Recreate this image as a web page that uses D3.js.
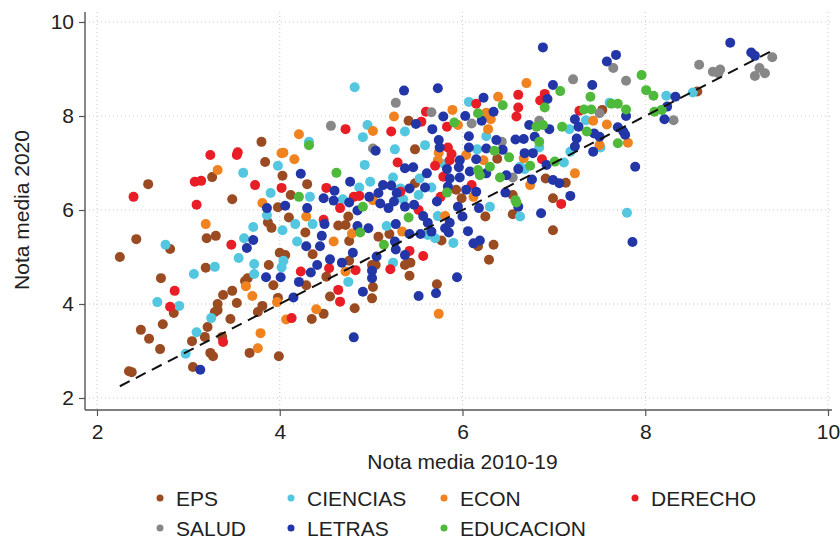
<!DOCTYPE html>
<html>
<head>
<meta charset="utf-8">
<script src="https://cdn.jsdelivr.net/npm/d3@7"></script>
<style>
  html, body { margin: 0; padding: 0; background: #fff; }
  svg { display: block; font-family: "Liberation Sans", Arial, sans-serif; }
</style>
</head>
<body>
<svg id="chart" width="840" height="541"></svg>
<script>
// Faculty groups, drawn in this order (later groups sit on top)
const categories = ["EPS", "CIENCIAS", "ECON", "DERECHO", "SALUD", "LETRAS", "EDUCACION"];
const categoryColors = ["#9a4b22", "#52c7df", "#f0821f", "#e91d25", "#878787", "#2236a8", "#4fb93b"];

// [nota media 2010-19, nota media 2020] per degree
const eps = [[3.80,7.45],[3.84,7.02],[3.26,6.70],[2.56,6.55],[3.48,6.23],[3.98,6.06],[3.87,5.74],[3.91,5.62],[3.20,5.40],[3.30,5.45],[2.43,5.38],[2.80,5.17],[2.25,5.00],[4.00,5.09],[3.88,4.83],[3.19,4.77],[2.70,4.55],[3.62,4.49],[3.65,4.55],[3.93,4.40],[3.48,4.28],[3.38,4.19],[3.53,4.02],[3.32,4.00],[3.32,3.87],[3.29,3.83],[3.98,4.13],[2.84,3.81],[3.81,3.96],[3.76,3.83],[3.46,3.68],[2.72,3.57],[3.21,3.51],[2.48,3.45],[3.18,3.30],[2.57,3.26],[3.37,3.30],[3.04,3.21],[2.69,3.04],[3.24,2.96],[3.27,2.89],[3.67,2.96],[3.99,2.89],[3.05,2.66],[2.35,2.57],[2.38,2.55],
  [4.03,6.73],[4.30,6.55],[4.12,6.32],[4.10,5.84],[4.75,5.86],[4.72,5.68],[4.64,5.67],[4.28,5.52],[5.20,5.49],[4.76,5.34],[5.08,5.43],
  [4.06,5.04],[4.36,5.06],[4.76,4.92],[5.01,4.83],[5.05,4.83],[4.29,4.40],[4.51,4.58],[5.02,4.36],[4.55,4.16],[5.01,4.12],[4.48,3.79],[4.35,3.68],[4.82,3.91],
  [5.41,7.90],[5.48,7.29],[6.38,7.09],[5.48,6.57],[5.93,6.43],[5.99,6.25],
  [5.37,4.83],[5.43,4.88],[5.77,5.35],[6.17,5.23],[6.34,5.26],[6.29,4.94],[5.42,4.60],[5.72,4.42],
  [7.53,8.13],[6.91,6.67],[7.13,6.58],[6.99,6.25],[6.55,6.32],[6.55,5.91],[6.99,5.57],[8.57,8.52],[6.25,5.86]];

const ciencias = [[3.98,6.94],[3.60,6.79],[3.90,6.36],[3.86,5.89],[3.71,5.64],[3.61,5.40],[2.75,5.26],[3.55,4.98],[3.72,4.85],[3.29,4.79],[3.06,4.64],[3.72,4.64],[2.66,4.04],[2.90,3.96],[3.25,3.70],[3.09,3.40],[2.97,2.94],
  [4.82,8.61],[4.96,7.81],[4.91,7.55],[4.32,7.45],[5.26,7.29],[4.93,6.96],[4.99,6.60],[4.87,6.48],[4.33,6.28],[4.69,6.23],[4.17,5.70],[4.36,5.70],[5.17,5.66],[4.03,5.57],[4.19,5.33],
  [4.04,4.92],[4.02,4.78],[4.75,4.47],
  [6.07,8.30],[5.37,7.67],[6.26,7.57],[5.59,7.38],[6.16,7.29],[5.80,6.98],[5.24,6.69],[5.53,6.67],[5.66,6.48],[5.32,6.46],[5.52,6.32],[6.30,6.07],[5.35,6.23],[5.73,5.87],[5.62,5.47],
  [5.70,5.40],[5.24,4.88],[5.90,5.30],
  [7.61,8.28],[7.17,7.72],[7.35,7.91],[7.51,7.33],[7.18,7.24],[6.84,7.33],[7.11,7.01],[6.63,6.92],[6.68,6.87],[6.63,5.86],[7.80,5.94],
  [8.52,8.50],[8.23,8.43]];

const econ = [[4.02,7.21],[3.32,6.85],[3.81,6.15],[3.19,5.70],[3.63,4.38],[3.70,4.17],[3.97,4.04],[3.79,3.38],[3.76,3.06],
  [5.02,7.68],[4.21,7.61],[4.04,7.22],[4.16,7.08],[5.02,6.21],[4.29,5.86],[4.79,5.50],[4.59,5.33],
  [4.72,4.69],[4.40,3.89],[4.07,3.67],
  [6.39,8.41],[5.89,8.13],[6.26,8.07],[5.25,7.99],[6.31,7.93],[5.95,7.81],[6.28,7.72],[5.74,7.22],[6.04,7.17],[6.23,7.06],[5.73,7.06],[6.12,6.28],[5.34,5.54],
  [5.74,3.79],
  [6.70,8.70],[7.43,7.90],[7.58,7.82],[7.81,7.43],[7.50,7.38],[6.67,7.10],[6.74,6.53],[7.23,6.78],[5.81,5.87]];

const derecho = [[3.24,7.17],[3.54,7.23],[3.53,7.17],[3.07,6.60],[3.14,6.62],[3.73,6.53],[4.02,6.47],[2.40,6.28],[3.09,6.11],[3.47,5.26],[2.85,4.28],[2.80,3.94],[3.38,3.19],
  [4.72,7.72],[5.22,7.67],[5.29,7.01],[4.51,6.47],[4.81,6.28],[4.87,6.30],[4.66,6.04],[4.48,5.79],
  [4.23,4.69],[4.54,4.76],[4.83,4.72],[5.21,4.74],[4.64,4.30],[4.66,4.05],[4.13,3.70],
  [6.61,8.45],[6.15,8.26],[6.61,8.18],[5.60,8.09],[5.55,7.88],[5.83,7.77],[6.59,7.99],[5.84,7.33],[5.88,7.19],[5.86,7.06],[5.70,6.94],[5.79,6.71],[5.32,6.39],[5.76,6.28],
  [5.42,5.13],[5.57,5.02],
  [6.90,8.47],[6.85,8.33],[7.28,8.11],[6.87,7.08],[7.08,6.13],[5.52,6.00],[6.10,6.53]];

const salud = [[5.27,8.28],[4.56,7.79],[5.02,7.31],[5.66,8.08],[6.10,7.84],[6.43,7.45],[6.55,6.69],[7.65,9.02],[7.21,8.78],[7.79,8.75],[7.50,8.06],[6.84,7.90],[9.39,9.25],[8.59,9.09],[8.74,8.94],[8.82,8.99],[8.80,8.91],[9.20,8.85],[9.25,9.02],[9.31,8.91],[8.31,7.91]];

const letras = [[3.86,6.04],[3.71,5.36],[3.64,5.19],[3.85,4.57],[4.01,4.57],[3.13,2.60],
  [5.05,7.26],[4.23,6.77],[4.77,6.60],[4.60,6.41],[5.13,6.53],[5.22,6.52],[4.48,6.25],[4.98,6.28],[5.08,6.36],[5.28,6.36],[4.06,6.09],[4.30,6.04],[4.59,6.20],[4.76,6.16],[4.85,5.99],[5.10,6.14],[5.19,6.04],[4.49,5.70],[4.85,5.66],[4.97,5.61],[4.46,5.45],[4.29,5.23],[4.44,5.23],[5.26,5.33],
  [5.27,5.16],[4.55,4.95],[4.80,5.09],[4.68,4.88],[4.41,4.83],[4.34,4.67],[5.01,4.71],[4.21,4.47],[5.01,4.55],[4.91,4.26],[4.15,4.14],[4.81,3.29],
  [5.73,8.59],[5.36,8.54],[6.23,8.39],[6.03,8.00],[6.34,8.09],[5.79,7.99],[5.49,7.83],[6.21,7.90],[5.67,7.72],[5.74,7.49],[6.07,7.57],[6.37,7.49],[6.58,7.50],[5.75,7.33],[6.07,7.33],[6.26,7.31],[6.44,7.28],[5.97,7.06],[6.15,7.08],[5.37,6.89],[5.46,6.91],[5.83,6.87],[5.96,6.91],[6.08,6.82],[6.26,6.78],[6.48,6.74],[6.61,6.87],[5.61,6.78],[5.86,6.67],[5.97,6.69],[5.59,6.48],[5.84,6.50],[5.42,6.46],[6.04,6.43],[6.15,6.39],[6.47,6.37],[6.61,6.07],[5.72,6.18],[5.95,6.07],[6.18,6.04],[5.25,6.18],[5.37,6.07],[5.47,6.11],[5.57,5.87],[5.62,5.73],[5.66,5.54],[5.81,5.61],[5.86,5.73],[5.27,5.70],[5.42,5.49],[6.00,5.86],
  [5.54,5.49],[5.85,5.52],[6.06,5.55],[5.37,5.04],[6.12,5.29],[6.19,5.35],[5.94,4.57],[5.71,4.23],[5.52,4.17],
  [6.88,9.46],[7.68,9.30],[7.58,9.16],[6.99,8.66],[7.42,8.66],[6.93,8.36],[8.24,8.20],[7.79,8.00],[8.21,7.93],[6.73,7.81],[6.95,7.72],[7.23,7.93],[7.27,7.77],[7.70,7.76],[7.76,7.67],[7.78,7.60],[7.44,7.63],[7.50,7.56],[6.79,7.56],[6.67,7.51],[7.25,7.52],[7.23,7.35],[7.43,7.24],[6.68,7.21],[6.77,7.21],[6.92,6.96],[6.76,6.65],[6.99,6.64],[7.06,6.57],[7.18,6.30],[6.86,5.93],[7.89,6.92],
  [8.93,9.56],[9.16,9.35],[9.20,9.28],[8.33,8.41],[7.86,5.32],[5.06,5.01]];

const educacion = [[4.32,7.38],[4.62,6.79],[4.21,6.28],[4.91,6.07],[4.88,5.52],[5.14,5.26],
  [6.44,8.23],[6.17,8.06],[5.91,7.86],[6.35,7.26],[6.51,7.12],[6.17,6.85],[6.30,6.92],[6.41,6.69],[6.19,6.74],[5.83,6.37],[6.58,6.21],[5.41,5.84],
  [7.96,8.87],[7.07,8.53],[7.40,8.41],[8.01,8.55],[8.09,8.43],[6.90,8.18],[7.33,8.14],[7.41,8.14],[7.63,8.26],[7.70,8.26],[7.79,8.14],[8.10,8.09],[8.18,8.13],[6.81,7.77],[6.88,7.81],[7.09,7.77],[7.36,7.67],[6.84,7.45],[7.70,7.42],[7.01,7.03],[6.74,6.94],[6.59,6.16]];

const seriesValues = [eps, ciencias, econ, derecho, salud, letras, educacion];

const xTicks = [2, 4, 6, 8, 10];
const yTicks = [2, 4, 6, 8, 10];
const equalityRange = [2.25, 9.4];   // extent of the 45-degree reference line
const xTitle = "Nota media 2010-19";
const yTitle = "Nota media 2020";

const svg = d3.select("#chart");
const x = d3.scaleLinear().domain([2, 10]).range([97, 828]);
const y = d3.scaleLinear().domain([2, 10]).range([398, 22]);
const axisX = 85, axisY = 410;

// dotted grid
const grid = svg.append("g").attr("stroke", "#c9c9c9").attr("stroke-width", 1).attr("stroke-dasharray", "1,3");
grid.selectAll("line.v").data(xTicks).join("line").attr("class", "v")
  .attr("x1", d => x(d)).attr("x2", d => x(d)).attr("y1", 12).attr("y2", axisY);
grid.selectAll("line.h").data(yTicks).join("line").attr("class", "h")
  .attr("x1", axisX).attr("x2", 832).attr("y1", d => y(d)).attr("y2", d => y(d));

// points
const pts = svg.append("g");
seriesValues.forEach((vals, i) => {
  pts.append("g").attr("fill", categoryColors[i])
    .selectAll("circle").data(vals).join("circle")
    .attr("cx", d => x(d[0])).attr("cy", d => y(d[1])).attr("r", 5);
});

// y = x reference line
svg.append("line")
  .attr("x1", x(equalityRange[0])).attr("y1", y(equalityRange[0]))
  .attr("x2", x(equalityRange[1])).attr("y2", y(equalityRange[1]))
  .attr("stroke", "#111").attr("stroke-width", 2).attr("stroke-dasharray", "11,7");

// axes
const axisColor = "#555";
const gx = svg.append("g").attr("transform", `translate(0,${axisY})`)
  .call(d3.axisBottom(x).tickValues(xTicks).tickSize(6).tickPadding(8).tickFormat(d3.format("d")));
const gy = svg.append("g").attr("transform", `translate(${axisX},0)`)
  .call(d3.axisLeft(y).tickValues(yTicks).tickSize(6).tickPadding(5).tickFormat(d3.format("d")));
gx.select(".domain").remove();
gy.select(".domain").remove();
[gx, gy].forEach(g => {
  g.selectAll(".tick line").attr("stroke", axisColor).attr("stroke-width", 1.2);
  g.selectAll(".tick text").attr("fill", "#222").style("font-size", "21px")
    .style("font-family", "'Liberation Sans', Arial, sans-serif");
});
svg.append("line").attr("x1", axisX).attr("x2", axisX).attr("y1", 12).attr("y2", axisY)
  .attr("stroke", axisColor).attr("stroke-width", 1.4);
svg.append("line").attr("x1", axisX).attr("x2", 832).attr("y1", axisY).attr("y2", axisY)
  .attr("stroke", axisColor).attr("stroke-width", 1.4);

// axis titles
svg.append("text").attr("x", x(6)).attr("y", 469).attr("text-anchor", "middle")
  .attr("fill", "#222").style("font-size", "21px").text(xTitle);
svg.append("text").attr("transform", "translate(29,210) rotate(-90)").attr("text-anchor", "middle")
  .attr("fill", "#222").style("font-size", "21px").text(yTitle);

// legend: 4 columns, 2 rows
const legendCols = [160, 291, 444, 635];
const legendRows = [498, 528];
const legend = svg.append("g");
categories.forEach((name, i) => {
  const cx = legendCols[i % 4], cy = legendRows[Math.floor(i / 4)];
  legend.append("circle").attr("cx", cx).attr("cy", cy).attr("r", 3.5).attr("fill", categoryColors[i]);
  legend.append("text").attr("x", cx + 16).attr("y", cy + 7.5).attr("fill", "#222")
    .style("font-size", "21px").text(name);
});
</script>
</body>
</html>
